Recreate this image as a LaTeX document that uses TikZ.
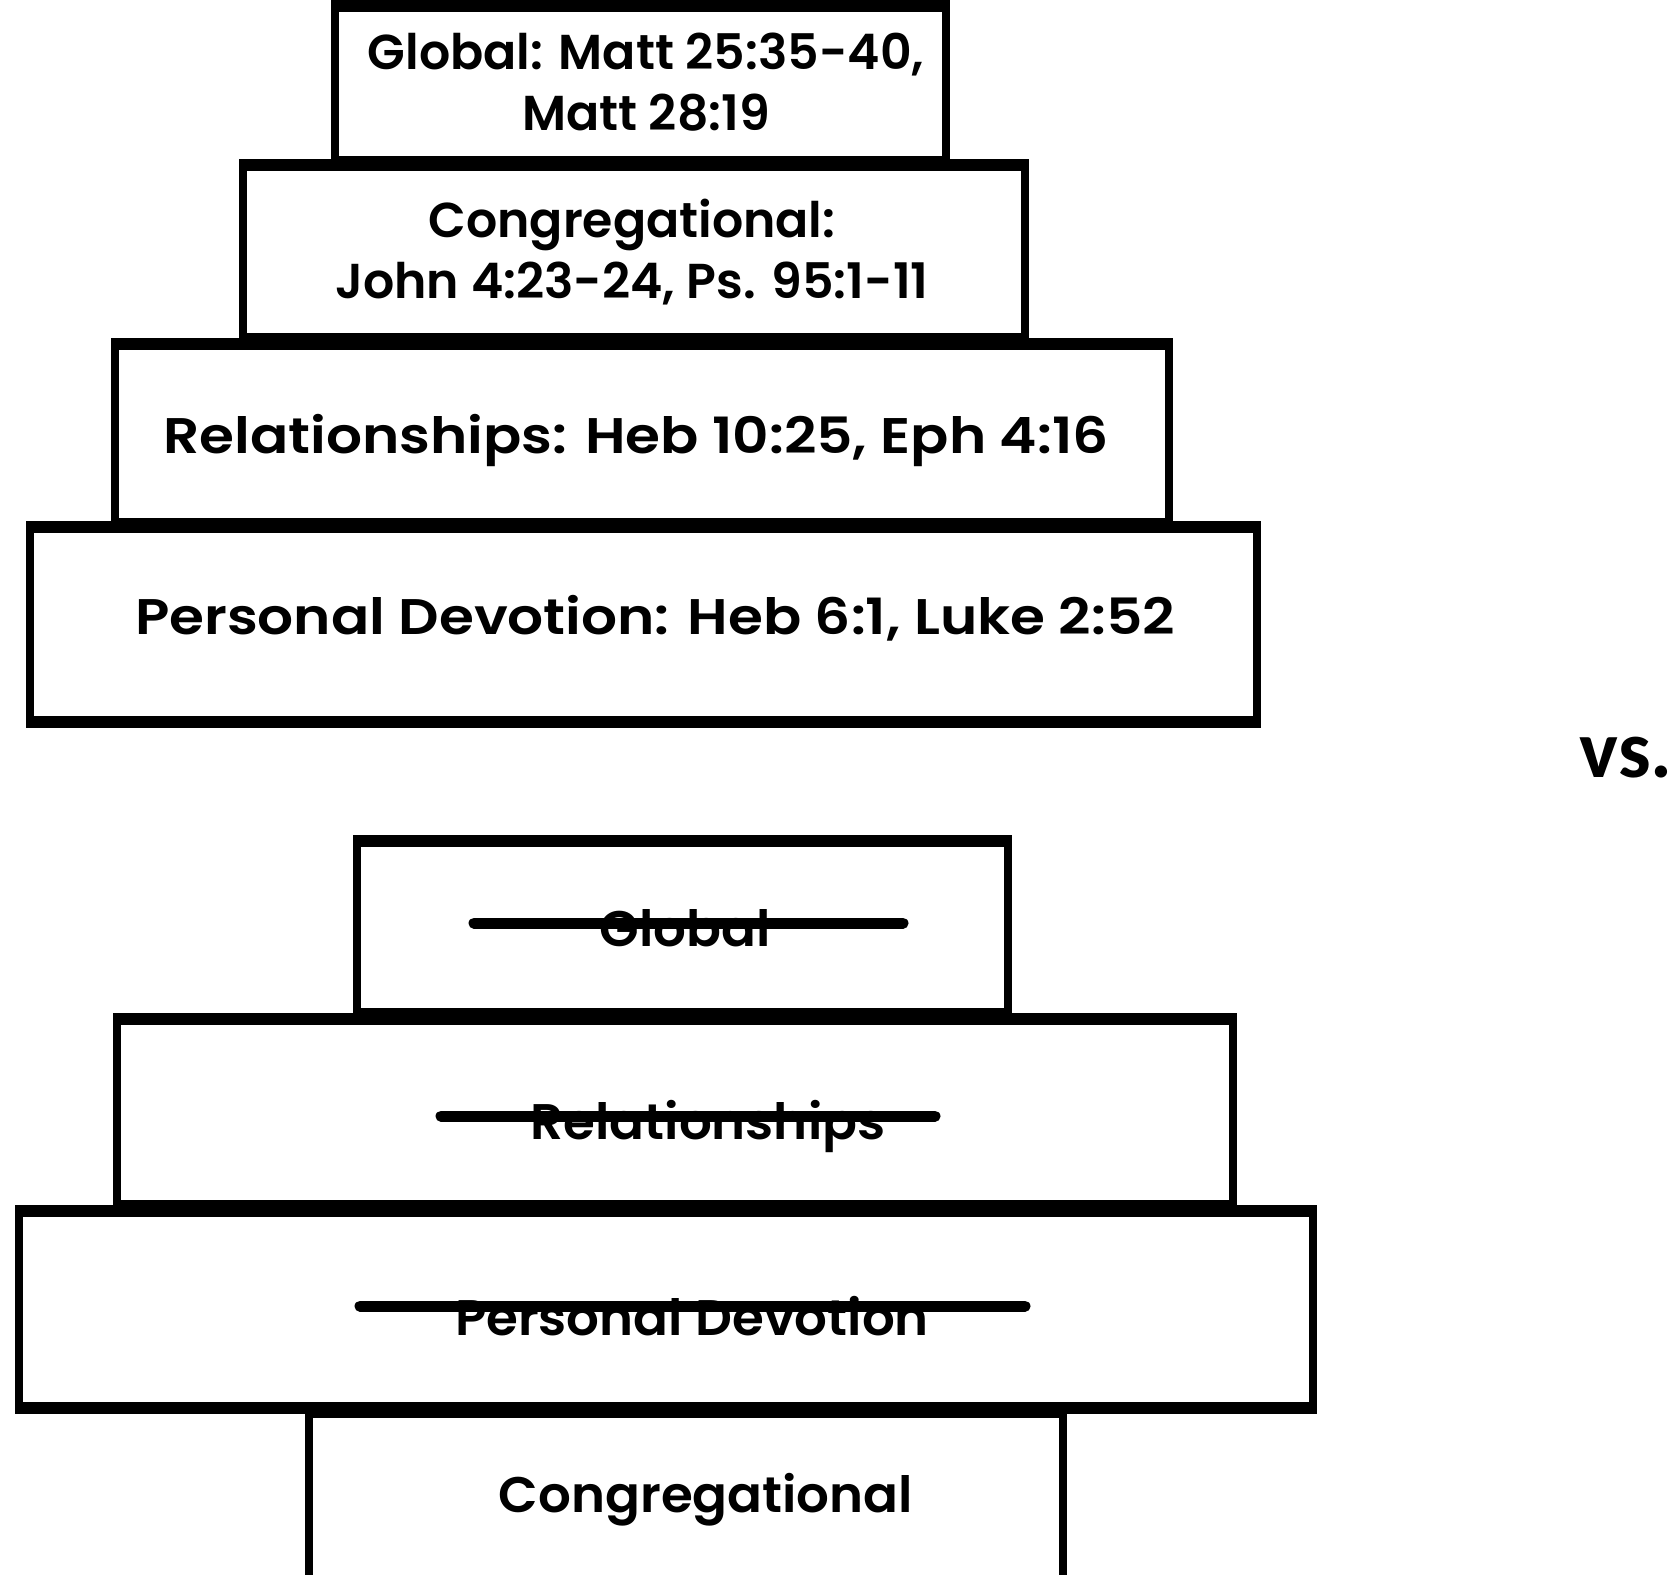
\documentclass[tikz,border=0pt]{standalone}
\usepackage{fontspec}
\setmainfont{Poppins}
\newfontfamily\topfont{Poppins SemiBold}
\newfontfamily\widefont{Poppins SemiBold}[FakeStretch=1.13]
\newfontfamily\lowfont{Poppins SemiBold}[FakeStretch=1.03]
\newfontfamily\vsfont{Carlito}
\tikzset{
  sidewall/.style={line width=8pt},
  tierbar/.style={line width=12pt},
  strike/.style={line width=11pt, line cap=round},
  toplbl/.style={font=\topfont\fontsize{49}{61}\selectfont, align=center, inner sep=0pt},
  widelbl/.style={font=\widefont\fontsize{50}{62}\selectfont, align=center, inner sep=0pt},
  lowlbl/.style={font=\lowfont\fontsize{50}{62}\selectfont, align=center, inner sep=0pt},
}
\newcommand\tier[4]{%
  \draw[sidewall] (#1,#2) -- (#1,#4) (#3,#2) -- (#3,#4);
  \draw[tierbar] ({#1-4},#2) -- ({#3+4},#2) ({#1-4},#4) -- ({#3+4},#4);
}
\begin{document}
\begin{tikzpicture}[x=1pt,y=-1pt]
\useasboundingbox[fill=white] (0,0) rectangle (1670,1574);
% upper pyramid
\tier{335}{6}{946}{162}
\tier{243}{165}{1025}{339}
\tier{115}{344}{1169}{524}
\tier{30}{527}{1257}{722}
\node[toplbl] (g1) at (646,82) {Global: Matt 25:35-40,\\Matt 28:19};
\node[toplbl] (c1) at (632,252) {Congregational:\\John 4:23-24, Ps. 95:1-11};
\node[widelbl] (r1) at (636,440) {Relationships: Heb 10:25, Eph 4:16};
\node[widelbl] (p1) at (655,618) {Personal Devotion: Heb 6:1, Luke 2:52};
% vs.
\node[font=\vsfont\fontsize{82}{90}\selectfont\bfseries, inner sep=0pt, anchor=base east] (vs) at (1673,777) {vs.};
% lower pyramid
\tier{357}{841}{1008}{1014}
\tier{117}{1019}{1233}{1206}
\tier{19}{1211}{1313}{1408}
\draw[sidewall] (309,1412) -- (309,1580) (1063,1412) -- (1063,1580);
\draw[tierbar] (305,1412) -- (1067,1412);
\node[lowlbl] (g2) at (685,928) {Global};
\node[lowlbl] (r2) at (708,1126) {Relationships};
\node[lowlbl] (p2) at (692,1316) {Personal Devotion};
\node[lowlbl] (c2) at (706,1500) {Congregational};
\coordinate (g2a) at (474,923); \coordinate (g2b) at (903,923);
\coordinate (r2a) at (441,1116); \coordinate (r2b) at (935,1116);
\coordinate (p2a) at (360,1306); \coordinate (p2b) at (1025,1306);
\draw[strike] (g2a) -- (g2b);
\draw[strike] (r2a) -- (r2b);
\draw[strike] (p2a) -- (p2b);
\end{tikzpicture}
\end{document}
